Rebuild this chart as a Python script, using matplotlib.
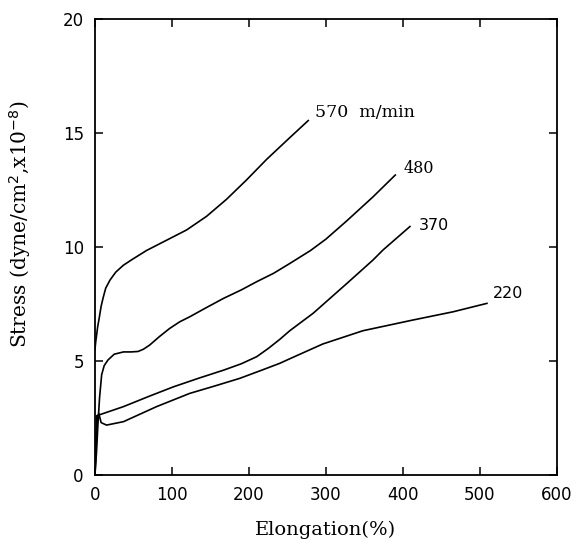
import matplotlib
matplotlib.use("Agg")
import matplotlib.pyplot as plt

# Stress-elongation curves, one per take-up speed
x_570 = [0, 1, 2, 3.5, 5.6, 8, 10.8, 14, 19.5, 27, 36.8, 48, 67, 93, 119, 145, 171, 197, 223, 253, 277]
y_570 = [5.5, 5.85, 6.1, 6.5, 6.9, 7.4, 7.8, 8.2, 8.55, 8.9, 9.2, 9.45, 9.85, 10.3, 10.75, 11.35, 12.1, 12.95, 13.85, 14.8, 15.55]

x_480 = [0, 2, 4, 6, 8.7, 12, 17, 25, 37, 47, 56, 63, 71, 84, 97, 110, 123, 145, 167, 190, 210, 232, 253, 280, 300, 327, 361, 390]
y_480 = [0, 1.0, 2.3, 3.4, 4.4, 4.8, 5.05, 5.3, 5.4, 5.4, 5.42, 5.52, 5.7, 6.08, 6.43, 6.72, 6.94, 7.35, 7.75, 8.12, 8.48, 8.85, 9.28, 9.85, 10.35, 11.15, 12.2, 13.16]

x_370 = [0, 1, 2.2, 37, 70, 102, 135, 167, 190, 210, 225, 240, 253, 283.5, 327, 361, 374, 409]
y_370 = [0, 1.3, 2.6, 3.0, 3.45, 3.87, 4.25, 4.6, 4.88, 5.19, 5.55, 5.95, 6.33, 7.1, 8.4, 9.43, 9.87, 10.9]

x_220 = [0, 1.5, 3, 5, 8, 15, 37, 80, 123, 155, 188, 215, 240, 253, 296, 348, 413, 465, 509]
y_220 = [0, 1.2, 2.4, 2.7, 2.3, 2.19, 2.34, 3.0, 3.58, 3.9, 4.24, 4.58, 4.9, 5.1, 5.75, 6.33, 6.8, 7.16, 7.53]

labels = ["570  m/min", "480", "370", "220"]
label_pos = [(286, 15.9), (401, 13.45), (421, 10.95), (517, 7.95)]
label_fonts = ["DejaVu Serif", "DejaVu Serif", "DejaVu Sans", "DejaVu Sans"]
label_sizes = [12.5, 11.5, 11.5, 11.5]

xticks = [0, 100, 200, 300, 400, 500, 600]
yticks = [0, 5, 10, 15, 20]

fig = plt.figure(figsize=(5.79, 5.46), dpi=100)
ax = fig.add_axes([0.164, 0.130, 0.798, 0.835])

for xs, ys in [(x_570, y_570), (x_480, y_480), (x_370, y_370), (x_220, y_220)]:
    ax.plot(xs, ys, color="black", linewidth=1.2)

for txt, (tx, ty), fam, fs in zip(labels, label_pos, label_fonts, label_sizes):
    ax.text(tx, ty, txt, fontsize=fs, family=fam, va="center", ha="left")

ax.set_xlim(0, 600)
ax.set_ylim(0, 20)
ax.set_xticks(xticks)
ax.set_yticks(yticks)
ax.tick_params(direction="in", length=6, width=1.1, top=True, right=True,
               labelsize=12, pad=8)
for s in ax.spines.values():
    s.set_linewidth(1.3)

ax.set_xlabel("Elongation(%)", fontsize=14, family="DejaVu Serif", labelpad=12)
ax.set_ylabel(r"Stress (dyne/cm$^2$,x10$^{-8}$)", fontsize=14.5, family="DejaVu Serif")
ax.yaxis.set_label_coords(-0.135, 0.55)

fig.savefig("out.png", dpi=100)
